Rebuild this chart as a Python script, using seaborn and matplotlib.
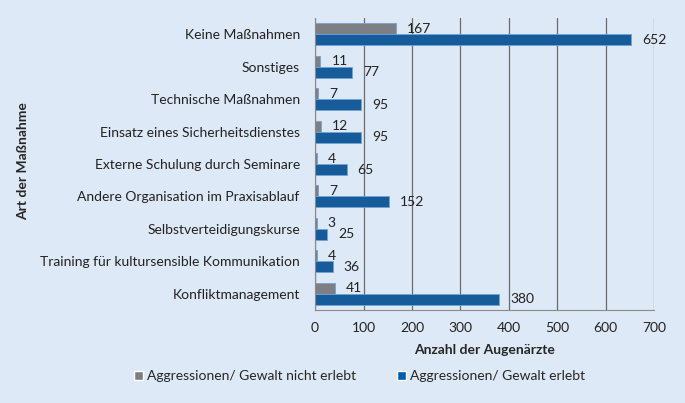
import matplotlib
matplotlib.use("Agg")
import matplotlib.pyplot as plt
import pandas as pd
import seaborn as sns
from matplotlib.patches import Patch

kategorien = [
    "Keine Maßnahmen",
    "Sonstiges",
    "Technische Maßnahmen",
    "Einsatz eines Sicherheitsdienstes",
    "Externe Schulung durch Seminare",
    "Andere Organisation im Praxisablauf",
    "Selbstverteidigungskurse",
    "Training für kultursensible Kommunikation",
    "Konfliktmanagement",
]
nicht_erlebt = [167, 11, 7, 12, 4, 7, 3, 4, 41]
erlebt = [652, 77, 95, 95, 65, 152, 25, 36, 380]
serien = ["Aggressionen/ Gewalt nicht erlebt", "Aggressionen/ Gewalt erlebt"]
x_ticks = [0, 100, 200, 300, 400, 500, 600, 700]

BG = "#dde9f6"
GRAU = "#7b7f85"
BLAU = "#005eb0"

df = pd.DataFrame({
    "Maßnahme": kategorien * 2,
    "Anzahl": nicht_erlebt + erlebt,
    "Gruppe": [serien[0]] * len(kategorien) + [serien[1]] * len(kategorien),
})

sns.set_style("white")
plt.rcParams["font.family"] = ["Lato", "DejaVu Sans"]

fig = plt.figure(figsize=(6.85, 4.03), dpi=100, facecolor=BG)
ax = fig.add_axes([0.46, 0.231, 0.495, 0.724])
ax.set_facecolor(BG)

sns.barplot(data=df, y="Maßnahme", x="Anzahl", hue="Gruppe", order=kategorien,
            hue_order=serien, palette=[GRAU, BLAU], orient="h", width=0.68,
            legend=False, ax=ax, edgecolor="#6fa3d6", linewidth=0.6)

for cont in ax.containers:
    ax.bar_label(cont, padding=8, fontsize=10, color="#222222")

ax.set_xlim(0, 700)
ax.set_xticks(x_ticks)
ax.xaxis.grid(True, color="#6b6b6b", linewidth=0.9)
ax.set_axisbelow(True)
for s in ["top", "right"]:
    ax.spines[s].set_visible(False)
ax.spines["left"].set_color("#8a8a8a")
ax.spines["bottom"].set_color("#8a8a8a")
ax.tick_params(axis="x", length=0, pad=9, labelsize=10, colors="#222222")
ax.tick_params(axis="y", length=0, pad=11, labelsize=10, colors="#222222")
ax.set_xlabel("Anzahl der Augenärzte", fontsize=10, fontweight="bold", labelpad=7)
ax.set_ylabel("")
fig.text(0.033, 0.6, "Art der Maßnahme", rotation=90, fontsize=10,
         fontweight="bold", ha="center", va="center")

handles = [Patch(facecolor=GRAU), Patch(facecolor=BLAU)]
fig.legend(handles, serien, loc="center", bbox_to_anchor=(0.525, 0.067), ncol=2,
           frameon=False, fontsize=10, handlelength=0.6, handleheight=0.6,
           handletextpad=0.3, columnspacing=3.0)

fig.savefig("out.png", dpi=100, facecolor=BG)
